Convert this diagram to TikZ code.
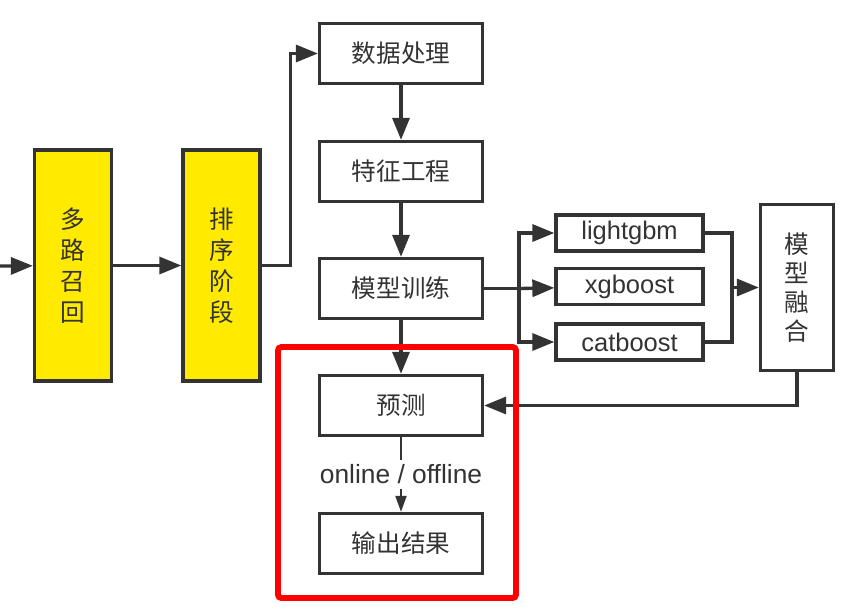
\documentclass[tikz,border=0pt]{standalone}
\usepackage{fontspec}
\setmainfont{Liberation Sans}
\newfontfamily\cjk{Noto Sans CJK SC}
\usetikzlibrary{arrows.meta}
\definecolor{ink}{HTML}{333333}
\definecolor{gold}{HTML}{FFEA00}
\definecolor{hlred}{HTML}{FF0000}

\begin{document}
\begin{tikzpicture}[x=0.02cm, y=-0.02cm,
    box/.style={draw=ink, line width=1.9pt, rectangle, minimum width=3.26cm, minimum height=1.2cm, text=ink, font=\cjk\fontsize{14}{16}\selectfont},
    ybox/.style={draw=ink, line width=1.9pt, rectangle, fill=gold, minimum width=1.54cm, minimum height=4.62cm, align=center, text=ink, font=\cjk\fontsize{14}{17.6}\selectfont},
    mbox/.style={draw=ink, line width=1.9pt, rectangle, minimum width=2.94cm, minimum height=0.72cm, text=ink, font=\fontsize{14.5}{16}\selectfont},
    fbox/.style={draw=ink, line width=1.9pt, rectangle, minimum width=1.46cm, minimum height=3.32cm, align=center, text=ink, font=\cjk\fontsize{14}{16.4}\selectfont},
    line/.style={draw=ink, line width=1.9pt},
    arrow/.style={line, -{Triangle[length=0.44cm, width=0.34cm]}},
    thinarrow/.style={draw=ink, line width=1.2pt, -{Triangle[length=0.32cm, width=0.22cm]}},
]
\useasboundingbox (0,0) rectangle (864,608);

% 召回与排序
\coordinate (in) at (0,266);
\node[ybox] (recall) at (73,265.5) {多\\路\\召\\回};
\node[ybox] (rank) at (221.5,265.5) {排\\序\\阶\\段};

% 主流程
\node[box] (data) at (401,53.5) {数据处理};
\node[box] (feat) at (401,171.5) {特征工程};
\node[box] (train) at (401,288.5) {模型训练};
\node[box] (pred) at (401,405.5) {预测};
\node[box] (out) at (401,543.5) {输出结果};

% 模型
\node[mbox] (lgb) at (629.5,233) {lightgbm};
\node[mbox] (xgb) at (629.5,286.5) {xgboost};
\node[mbox] (cat) at (629.5,342) {catboost};
\node[fbox] (fuse) at (797,287.5) {模\\型\\融\\合};
\coordinate (split) at (519,288.5);
\coordinate (join) at (732,287.5);

% 连线
\draw[arrow] (in) -- (recall);
\draw[arrow] (recall) -- (rank);
\draw[arrow] (rank.east) -- ++(29,0) |- (data);
\draw[arrow] (data) -- (feat);
\draw[arrow] (feat) -- (train);
\draw[arrow] (train) -- (pred);
\draw[line] (train) -- (split);
\draw[arrow] (split) |- (lgb);
\draw[arrow] (split) -- (xgb);
\draw[arrow] (split) |- (cat);
\draw[line] (lgb) -| (join);
\draw[line] (cat) -| (join);
\draw[arrow] (join) -- (fuse);
\draw[arrow] (fuse) |- (pred);
\draw[thinarrow] (pred) -- node[fill=white, text=ink, font=\fontsize{15}{17}\selectfont, inner sep=3pt] (mode) {online / offline} (out);

% 标注
\draw[hlred, line width=3.4pt, rounded corners=2pt] (278,347) rectangle (516,598);
\end{tikzpicture}
\end{document}
